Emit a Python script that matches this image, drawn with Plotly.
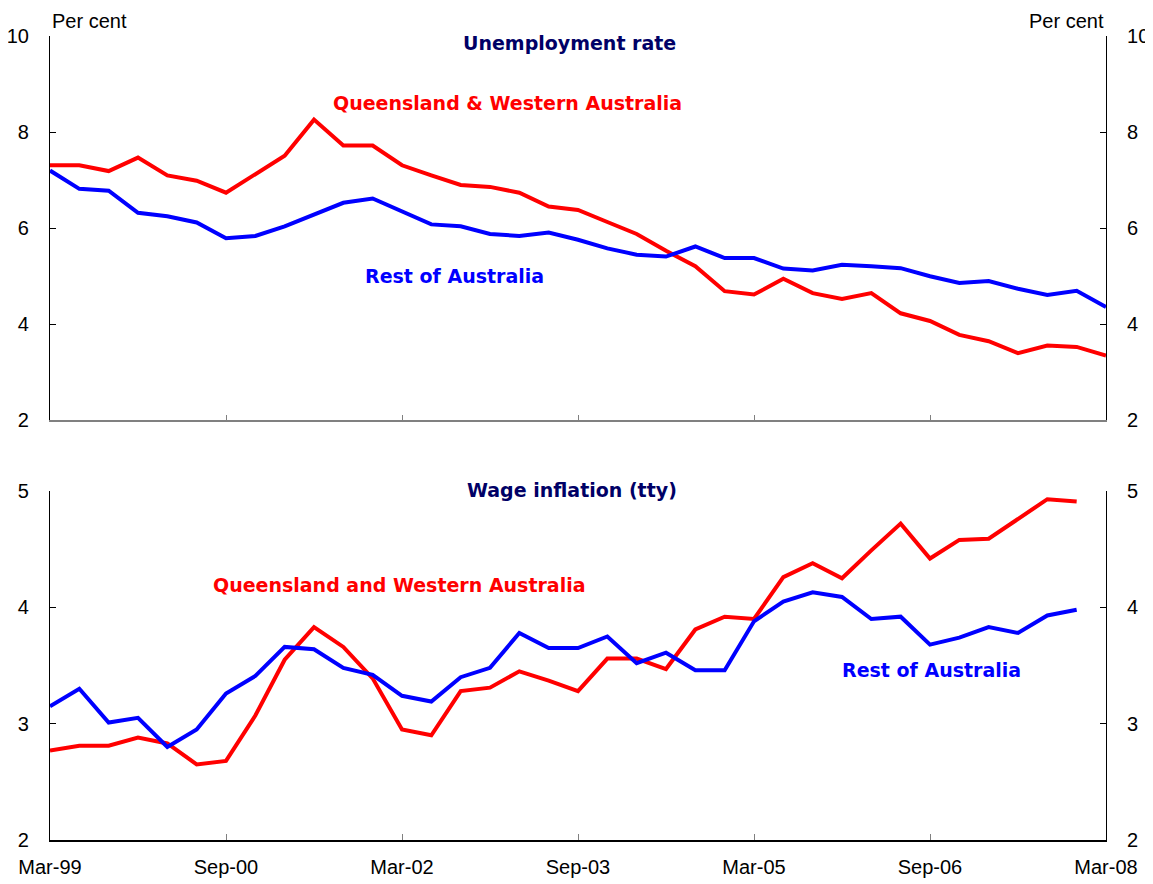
import plotly.graph_objects as go

months = ["Mar", "Jun", "Sep", "Dec"]
quarters = [f"{months[i % 4]}-{(99 + i // 4) % 100:02d}" for i in range(37)]
tick_labels = ["Mar-99", "Sep-00", "Mar-02", "Sep-03", "Mar-05", "Sep-06", "Mar-08"]

unemp_qwa = [7.31, 7.31, 7.19, 7.47, 7.10, 6.99, 6.74, 7.12, 7.51, 8.26, 7.72, 7.72, 7.31,
             7.10, 6.90, 6.86, 6.74, 6.45, 6.38, 6.13, 5.88, 5.53, 5.21, 4.69, 4.62, 4.95,
             4.65, 4.53, 4.65, 4.23, 4.07, 3.78, 3.65, 3.40, 3.56, 3.53, 3.35]
unemp_rest = [7.20, 6.82, 6.78, 6.32, 6.25, 6.12, 5.79, 5.84, 6.04, 6.29, 6.53, 6.62, 6.36,
              6.08, 6.04, 5.88, 5.84, 5.91, 5.76, 5.58, 5.45, 5.41, 5.62, 5.38, 5.38, 5.16,
              5.12, 5.24, 5.21, 5.17, 5.00, 4.86, 4.90, 4.74, 4.61, 4.70, 4.36]

wage_qwa = [2.77, 2.81, 2.81, 2.88, 2.83, 2.65, 2.68, 3.07, 3.55, 3.83, 3.66, 3.39, 2.95,
            2.90, 3.28, 3.31, 3.45, 3.37, 3.28, 3.56, 3.56, 3.47, 3.81, 3.92, 3.90, 4.26,
            4.38, 4.25, 4.49, 4.72, 4.42, 4.58, 4.59, 4.76, 4.93, 4.91]
wage_rest = [3.15, 3.30, 3.01, 3.05, 2.80, 2.95, 3.26, 3.41, 3.66, 3.64, 3.48, 3.42, 3.24,
             3.19, 3.40, 3.48, 3.78, 3.65, 3.65, 3.75, 3.52, 3.61, 3.46, 3.46, 3.88, 4.05,
             4.13, 4.09, 3.90, 3.92, 3.68, 3.74, 3.83, 3.78, 3.93, 3.98]

RED = "#FF0000"
BLUE = "#0000FF"
NAVY = "#000066"
FONT = "Liberation Sans, Arial, sans-serif"
BFONT = "DejaVu Sans, Verdana, sans-serif"

fig = go.Figure()
fig.add_trace(go.Scatter(x=quarters[:len(unemp_qwa)], y=unemp_qwa, mode="lines",
                         line=dict(color=RED, width=4), xaxis="x", yaxis="y"))
fig.add_trace(go.Scatter(x=quarters[:len(unemp_rest)], y=unemp_rest, mode="lines",
                         line=dict(color=BLUE, width=4), xaxis="x", yaxis="y"))
fig.add_trace(go.Scatter(x=quarters[:len(wage_qwa)], y=wage_qwa, mode="lines",
                         line=dict(color=RED, width=4), xaxis="x2", yaxis="y2"))
fig.add_trace(go.Scatter(x=quarters[:len(wage_rest)], y=wage_rest, mode="lines",
                         line=dict(color=BLUE, width=4), xaxis="x2", yaxis="y2"))
# invisible traces so that the right-hand axes are drawn
fig.add_trace(go.Scatter(x=[quarters[0]], y=[None], xaxis="x", yaxis="y3", showlegend=False,
                         hoverinfo="skip"))
fig.add_trace(go.Scatter(x=[quarters[0]], y=[None], xaxis="x2", yaxis="y4", showlegend=False,
                         hoverinfo="skip"))

top_dom = [0.5218, 1.0]
bot_dom = [0.0, 0.434]

xcommon = dict(type="category", categoryorder="array", categoryarray=quarters,
               range=[0, 36], tickmode="array", tickvals=tick_labels, ticktext=tick_labels,
               ticks="inside", ticklen=6, showgrid=False, zeroline=False, showline=True,
               automargin=False,
               tickfont=dict(family=FONT, size=20, color="black"))

ycommon = dict(ticks="inside", ticklen=6, tickcolor="black", showgrid=False, zeroline=False,
               showline=True, linecolor="black", linewidth=1.2, automargin=False,
               tickfont=dict(family=FONT, size=20, color="black"), ticklabelstandoff=16)

# the page body adds an 8px offset, so the figure is sized to fit the 1153x884 window
fig.update_layout(
    width=1145, height=876,
    margin=dict(l=42, r=47, t=28, b=44),
    paper_bgcolor="white", plot_bgcolor="white",
    showlegend=False,
    xaxis=dict(xcommon, domain=[0, 1], anchor="y", showticklabels=False,
               linecolor="#808080", tickcolor="#808080", linewidth=1.5),
    xaxis2=dict(xcommon, domain=[0, 1], anchor="y2", showticklabels=True,
                linecolor="black", tickcolor="#808080", linewidth=1.5, ticklabelstandoff=8),
    yaxis=dict(ycommon, domain=top_dom, anchor="x", range=[2, 10], tickvals=[2, 4, 6, 8, 10]),
    yaxis3=dict(ycommon, overlaying="y", side="right", anchor="x", range=[2, 10],
                tickvals=[2, 4, 6, 8, 10]),
    yaxis2=dict(ycommon, domain=bot_dom, anchor="x2", range=[2, 5], tickvals=[2, 3, 4, 5]),
    yaxis4=dict(ycommon, overlaying="y2", side="right", anchor="x2", range=[2, 5],
                tickvals=[2, 3, 4, 5]),
)


def label(text, x, y, color, font=BFONT, size=19, xanchor="center"):
    return dict(text=text, x=x, y=y, xref="paper", yref="paper", xanchor=xanchor,
                yanchor="middle", showarrow=False, font=dict(family=font, size=size, color=color))


annos = [
    dict(text="Per cent", x=0, y=1, xref="paper", yref="paper", xanchor="left", yanchor="bottom",
         yshift=2, showarrow=False, font=dict(family=FONT, size=20, color="black")),
    dict(text="Per cent", x=1, y=1, xref="paper", yref="paper", xanchor="right", yanchor="bottom",
         yshift=2, showarrow=False, font=dict(family=FONT, size=20, color="black")),
    label("<b>Unemployment rate</b>", 0.4924, 0.9913, NAVY),
    label("<b>Queensland & Western Australia</b>", 0.4337, 0.9167, RED),
    label("<b>Rest of Australia</b>", 0.3826, 0.7015, BLUE),
    label("<b>Wage inflation (tty)</b>", 0.4943, 0.4353, NAVY),
    label("<b>Queensland and Western Australia</b>", 0.3305, 0.3172, RED),
    label("<b>Rest of Australia</b>", 0.8352, 0.2114, BLUE),
]
fig.update_layout(annotations=annos)

fig.write_html("out.html")
